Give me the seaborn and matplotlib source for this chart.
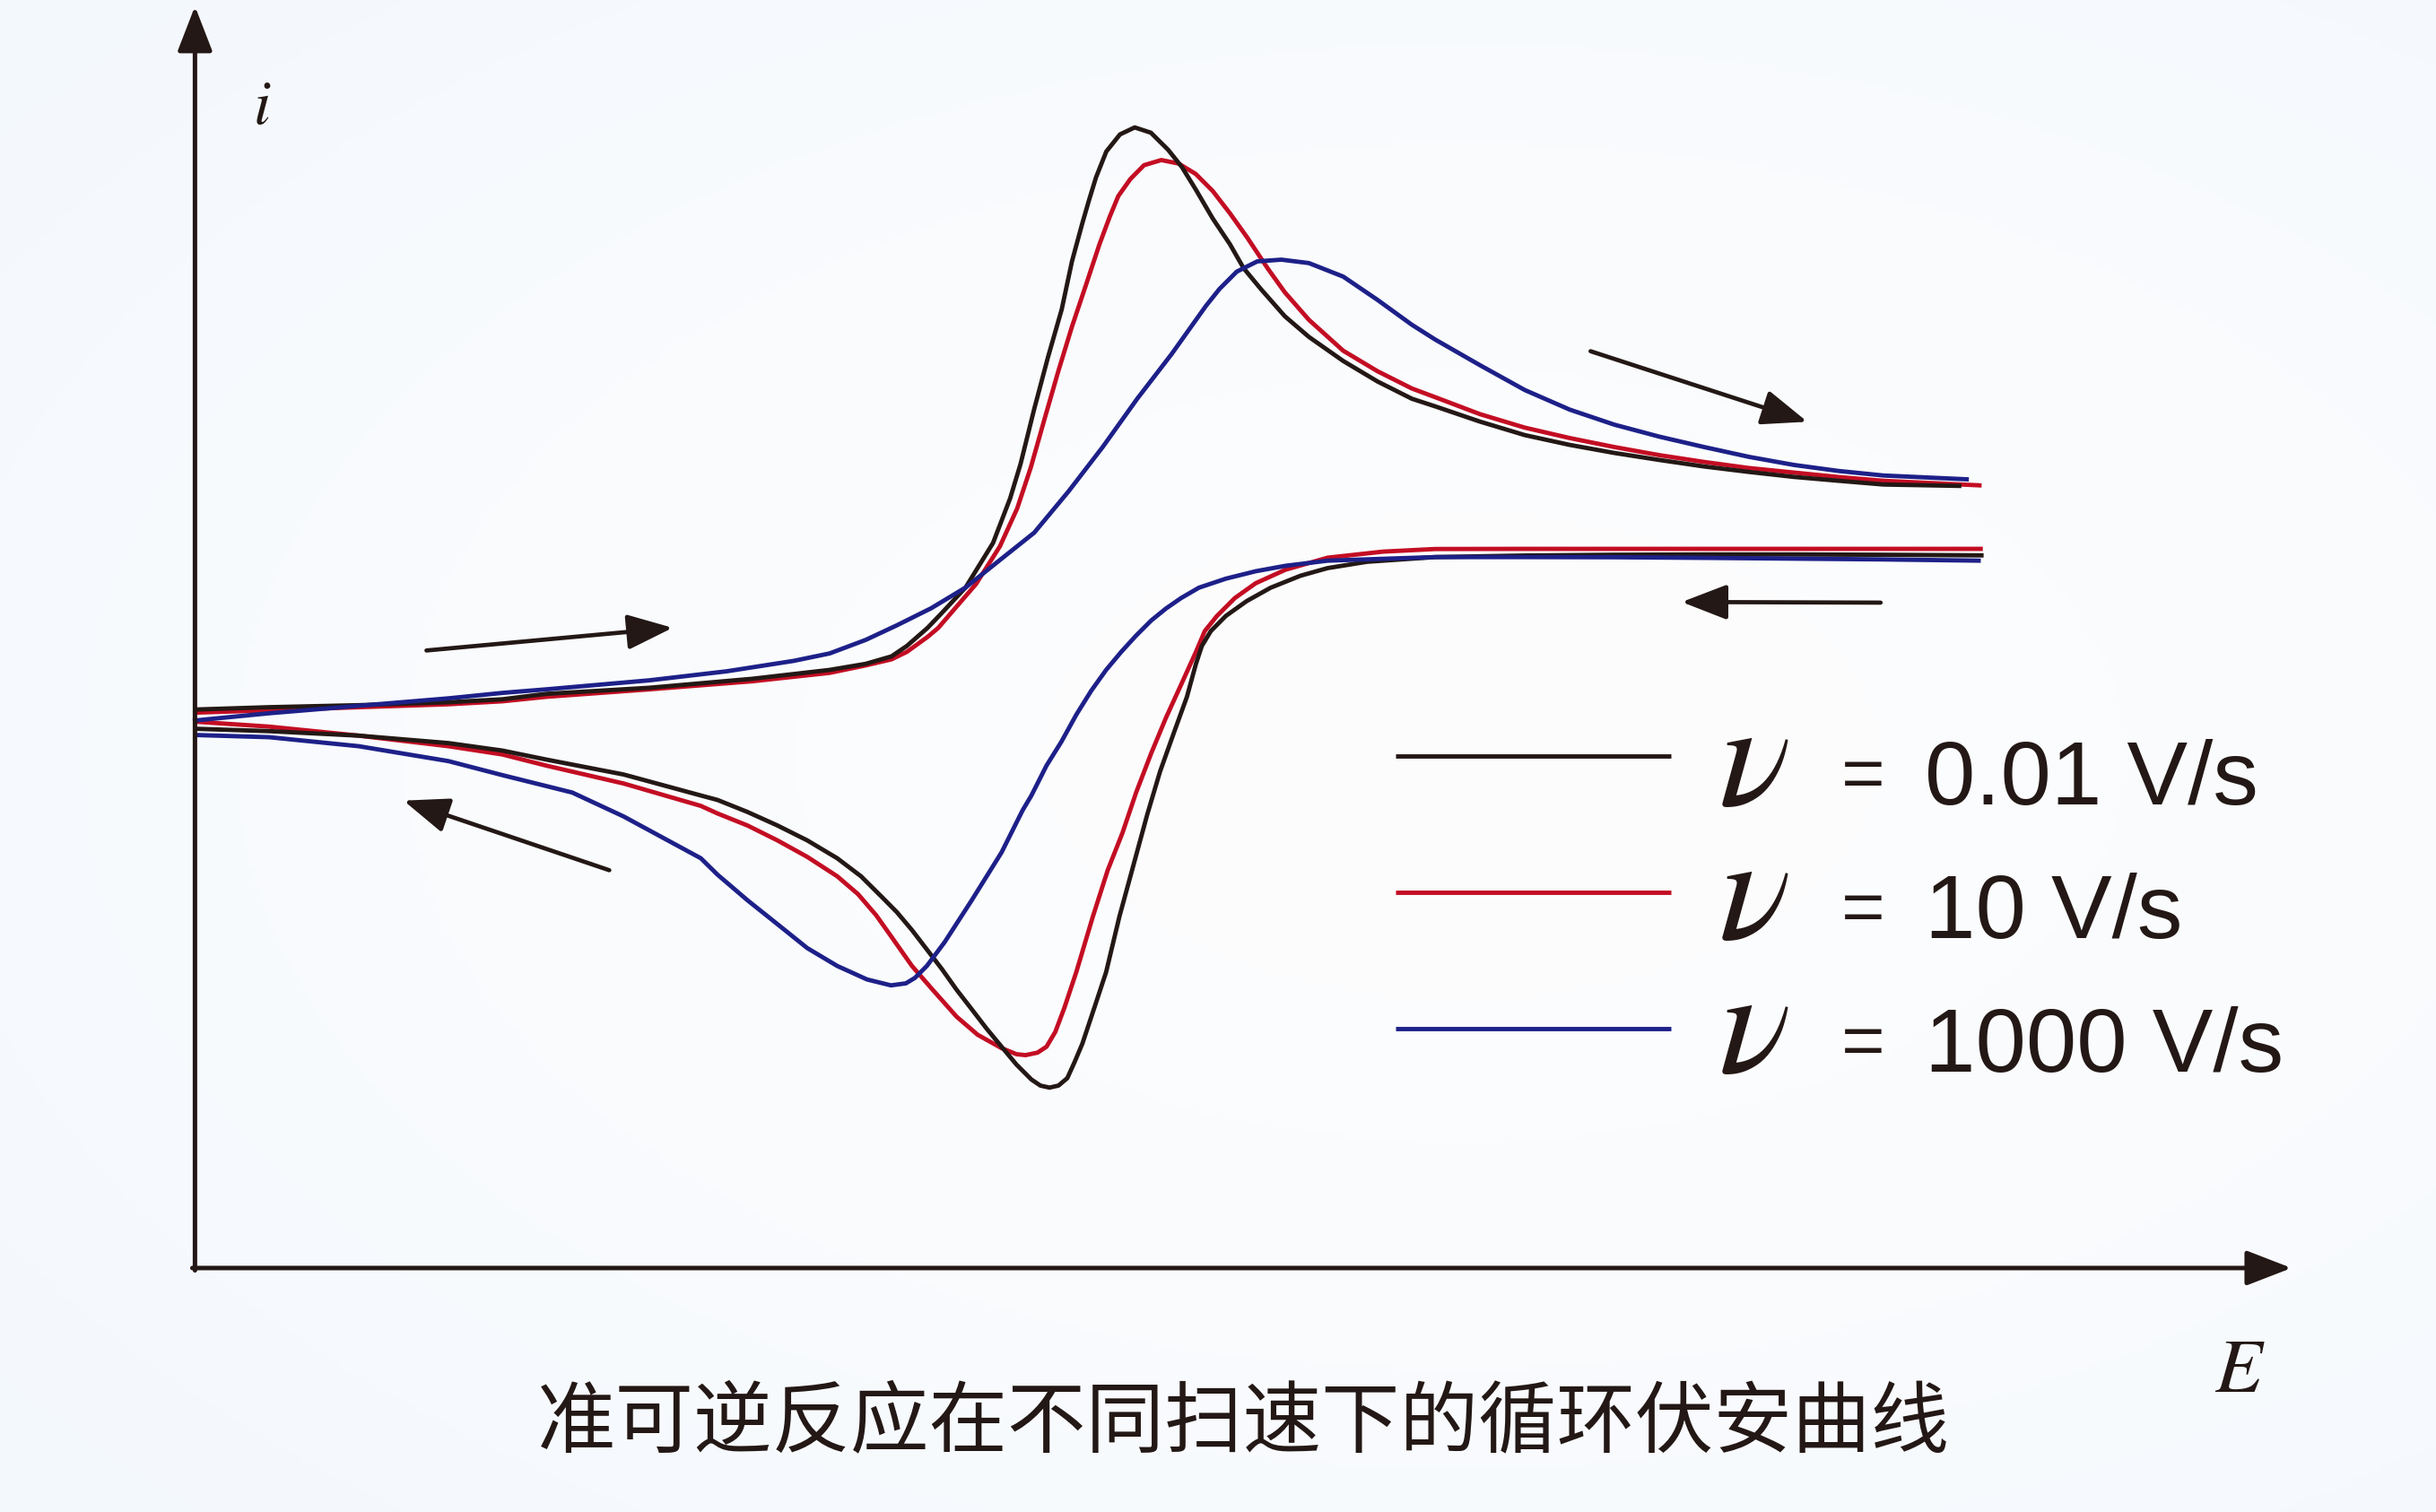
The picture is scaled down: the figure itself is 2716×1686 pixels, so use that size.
import numpy as np
import pandas as pd
import matplotlib
matplotlib.use("Agg")
import matplotlib.pyplot as plt
from matplotlib.patches import ArrowStyle
import seaborn as sns

# ---- data (E and i in arbitrary units, no ticks on the chart) ----
rates = ["0.01 V/s", "10 V/s", "1000 V/s"]

black_fwd_E = [0.5, 48.2, 105.9, 163.7, 198.3, 226.7, 293, 359.3, 409, 432.2, 448.8, 458.7, 472, 481.2,
               496.5, 514.2, 525.2, 531.9, 540.7, 549.5, 558.4, 565, 571.6, 576.1, 580.5, 587.1, 595.9,
               605.4, 615.8, 626.9, 635.7, 644.6, 655.6, 666.7, 675.5, 686.5, 702, 717.5, 739.6, 761.7,
               783.8, 798.8, 827.6, 856.5, 885.4, 914.2, 943.1, 972, 1000.8, 1029.7, 1058.6, 1087.4, 1137.5]
black_fwd_i = [6.4, 7.9, 9.2, 11.1, 13.0, 16.5, 20.4, 26.2, 31.9, 35.8, 40.6, 47.3, 58.9, 68.5,
               84.9, 113.6, 142.3, 164.4, 199.8, 232.9, 263.9, 294.8, 319.1, 334.6, 348.9, 365.5, 376.5,
               381, 377.6, 366.6, 355.6, 341.2, 322.4, 305.8, 290.4, 277.1, 259.5, 246.2, 230.7, 217.5,
               206.4, 201.5, 191.7, 183, 176.7, 171.5, 167, 162.8, 159.3, 156.1, 153.6, 151.2, 150.3]
black_rev_E = [1151.8, 1087, 1030, 972, 914, 856.5, 798.8, 755, 729.5, 712.1, 692.9, 677.5, 664, 654.4,
               648.6, 644.8, 639, 631.3, 621.7, 613.5, 604.5, 595.5, 587, 579.4, 571.7, 566.8, 562, 556.3,
               550.5, 544.7, 538.9, 529.3, 519.7, 510.1, 500.5, 490.8, 481.2, 471.6, 462, 452.3, 442.7,
               429.2, 413.9, 394.6, 375.4, 356.1, 336.9, 326.1, 276.4, 226.7, 198.3, 163.7, 105.9, 48.2, 1.4]
black_rev_i = [105.6, 106, 106.2, 106.2, 106, 105.5, 104.5, 101.5, 97.4, 92.5, 84.8, 76.2, 66.6, 56.9,
               47.3, 35.8, 14.6, -6.6, -33.5, -61, -94, -127, -162.5, -185.5, -208.6, -220.2, -230.8, -235.6,
               -236.9, -235.6, -231.7, -222.1, -210.6, -199, -186.5, -174, -160.5, -148, -135.5, -124, -114.3,
               -100.9, -89.3, -77.8, -68.2, -59.5, -51.8, -48.9, -35.4, -25.8, -20, -15.2, -10.4, -7.5, -6]

red_fwd_E = [0.5, 48.2, 105.9, 163.7, 198.3, 226.7, 293, 359.3, 409, 432.2, 448.8, 458.7, 472, 478.8,
             503.2, 518.6, 529.7, 538.5, 547.3, 556.2, 565, 573.9, 582.7, 589.3, 594.8, 602.6, 611.4, 622.5,
             633.5, 644.6, 655.6, 666.7, 677.7, 690.9, 702, 717.5, 739.6, 761.7, 783.8, 798.8, 827.6, 856.5,
             885.4, 914.2, 943.1, 972, 1000.8, 1029.7, 1058.6, 1087.4, 1150.5]
red_fwd_i = [4.4, 5.9, 7.9, 9.8, 11.7, 14.6, 19.4, 24.6, 30, 34.8, 38.7, 43.5, 53.1, 58.8,
             87.1, 111.4, 135.7, 162.2, 193.2, 224.1, 252.8, 279.3, 305.8, 323.5, 336.8, 347.8, 356.7, 360,
             357.8, 351.1, 340.1, 325.7, 310.3, 290.4, 274.9, 257.2, 237.3, 224.1, 213, 207.4, 196.5, 187.8,
             181.1, 175.3, 170.1, 165.7, 161.8, 158.9, 156, 153.6, 150.6]
red_rev_E = [1151.3, 1087, 972, 856.5, 798.8, 765, 729.5, 702.5, 683.3, 669.8, 658.3, 650.5, 644.8, 635.2,
             625.5, 615.9, 606.3, 597.5, 588, 578.4, 567.8, 560.1, 554.3, 548.6, 542.8, 535.1, 529.3, 519.7,
             504.3, 490.8, 475.4, 462, 448.5, 438.9, 427.3, 413.9, 394.6, 375.4, 356.1, 336.9, 326.1, 276.4,
             226.7, 198.3, 163.7, 105.9, 48.2, 0.5]
red_rev_i = [109.8, 109.8, 109.8, 109.8, 109.7, 108, 104.1, 96.4, 87.7, 78.1, 66.6, 56.9, 43.5, 22.3,
             1.1, -22, -47, -73, -97, -127, -162.5, -185.6, -201, -210.6, -214.4, -216, -215.4, -211.5,
             -202.9, -191.3, -174, -158.6, -139.4, -125.9, -112.4, -100.9, -88.4, -77.8, -68.2, -60.5, -55.6,
             -41.2, -29.7, -22.5, -17.2, -10.4, -4.6, -1.4]

blue_fwd_E = [-0.9, 48.2, 105.9, 163.7, 198.3, 226.7, 293, 342.7, 385.8, 409, 432.2, 452.3, 474.4, 496.5,
              518.6, 540.7, 562.8, 584.9, 607, 629.1, 651.2, 660, 671.1, 684.3, 699.8, 717.5, 739.6, 761.7,
              783.8, 798.8, 827.6, 856.5, 885.4, 914.2, 943.1, 972, 1000.8, 1029.7, 1058.6, 1087.4, 1142.3]
blue_fwd_i = [-0.8, 4, 8.8, 13.6, 17.1, 19.4, 25.2, 31, 37.7, 42.5, 51.2, 60.6, 71.6, 84.9,
              102.6, 120.2, 146.8, 175.5, 206.4, 235.1, 266.1, 277.1, 288.2, 294.8, 295.9, 293.7, 285, 270,
              254, 244.5, 228, 212, 199.4, 189.7, 182, 175.3, 169, 163.8, 159.9, 157, 154.5]
blue_rev_E = [1150, 1087, 1030, 972, 914, 856.5, 798.8, 729.5, 702.5, 683.3, 664, 646.7, 635.2, 625.5,
              616, 606.3, 596.7, 587, 577.4, 567.8, 558.2, 548.6, 538.9, 533.2, 519.7, 500.5, 483.1, 471.6,
              463.9, 458.1, 448.5, 433.1, 413.9, 394.6, 375.4, 356.1, 336.9, 326.1, 276.4, 243.3, 198.3,
              163.7, 105.9, 48.2, 1.1]
blue_rev_i = [102.2, 103, 103.5, 104, 104.4, 104.5, 104.5, 102.2, 98.9, 95.4, 90.6, 84.8, 78.1, 71.4,
              63.7, 54, 43.5, 31.9, 18.5, 3.1, -14.3, -29.7, -48.9, -58.5, -85.5, -116.3, -143.2, -158.6,
              -166.3, -169.8, -171.1, -167.3, -158.6, -147.1, -131.7, -116.3, -99.9, -89.3, -62.4, -47,
              -35.8, -26.8, -17.2, -11.4, -10]

title = "准可逆反应在不同扫速下的循环伏安曲线"

# ---- long table for seaborn ----
branches = {
    "0.01 V/s": [("fwd", black_fwd_E, black_fwd_i), ("rev", black_rev_E, black_rev_i)],
    "10 V/s": [("fwd", red_fwd_E, red_fwd_i), ("rev", red_rev_E, red_rev_i)],
    "1000 V/s": [("fwd", blue_fwd_E, blue_fwd_i), ("rev", blue_rev_E, blue_rev_i)],
}
parts = []
for rate, items in branches.items():
    for name, E, i in items:
        parts.append(pd.DataFrame({"E": E, "i": i, "rate": rate, "branch": name}))
df = pd.concat(parts, ignore_index=True)

palette = {"0.01 V/s": "#231815", "10 V/s": "#C30D23", "1000 V/s": "#1D2088"}
ink = "#231815"

sns.set_style("white")
plt.rcParams["font.family"] = ["Liberation Sans", "DejaVu Sans"]
plt.rcParams["mathtext.fontset"] = "stix"

fig = plt.figure(figsize=(27.16, 16.86), dpi=100)

# soft bluish background
bg = fig.add_axes([0, 0, 1, 1])
yy, xx = np.mgrid[0:1:300j, 0:1:480j]
r = np.clip(np.sqrt(((xx - 0.6) / 0.8) ** 2 + ((yy - 0.5) / 0.75) ** 2), 0, 1) ** 1.5
c0 = np.array([253, 253, 254]) / 255
c1 = np.array([243, 248, 253]) / 255
bg.imshow(c0 + (c1 - c0) * r[..., None], extent=[0, 1, 0, 1], aspect="auto", origin="lower")
bg.axis("off")

ax = fig.add_axes([0, 0, 1, 1])
ax.patch.set_alpha(0)

sns.lineplot(data=df, x="E", y="i", hue="rate", units="branch", estimator=None, sort=False,
             hue_order=["10 V/s", "0.01 V/s", "1000 V/s"], palette=palette,
             linewidth=3.5, legend=False, ax=ax)
for ln in ax.lines:
    ln.set_linewidth(3.5)
    ln.set_solid_capstyle("butt")

ax.set_xlim(-125, 1443)
ax.set_ylim(-510, 463)
ax.axis("off")

# axes drawn as arrows
head = ArrowStyle("-|>", head_length=1.55, head_width=0.6)
axprops = dict(arrowstyle=head, lw=3.6, color=ink, shrinkA=0, shrinkB=0, mutation_scale=20)
ax.annotate("", xy=(0.5, 459), xytext=(0.5, -354.5), arrowprops=axprops)
ax.annotate("", xy=(1350, -353), xytext=(-1.2, -353), arrowprops=axprops)
ax.text(43.5, 394, "$i$", fontsize=50, ha="center", va="center", color=ink)
ax.text(1317, -420, "$E$", fontsize=62, ha="center", va="center", color=ink)

# scan direction arrows
arrprops = dict(arrowstyle=head, lw=3.4, color=ink, shrinkA=0, shrinkB=0, mutation_scale=20)
for tail, tip in [((149.5, 44.4), (308, 59)),
                  ((898.8, 237), (1038.3, 191.6)),
                  ((1085.5, 75.2), (957.5, 75.6)),
                  ((267.2, -97), (134.8, -52.2))]:
    ax.annotate("", xy=tip, xytext=tail, arrowprops=arrprops)

# hand-made legend
key_y = [0.500, 0.4098, 0.3197]
base_y = [0.468, 0.3796, 0.2912]
for rate, ky, by in zip(rates, key_y, base_y):
    ax.plot([0.5729, 0.6859], [ky, ky], transform=ax.transAxes, color=palette[rate], lw=3.5,
            solid_capstyle="butt")
    ax.text(0.720, by, r"$\nu$", transform=ax.transAxes, fontsize=120, ha="center",
            va="baseline", color=ink)
    ax.text(0.765, by + 0.004, "=", transform=ax.transAxes, fontsize=60, ha="center",
            va="baseline", color=ink)
    ax.text(0.790, by, rate, transform=ax.transAxes, fontsize=73, ha="left",
            va="baseline", color=ink)

fig.text(0.5103, 0.0587, title, fontsize=63, ha="center", va="center", color=ink,
         family=["Noto Sans CJK SC", "DejaVu Sans"])

fig.savefig("out.png", dpi=100)
